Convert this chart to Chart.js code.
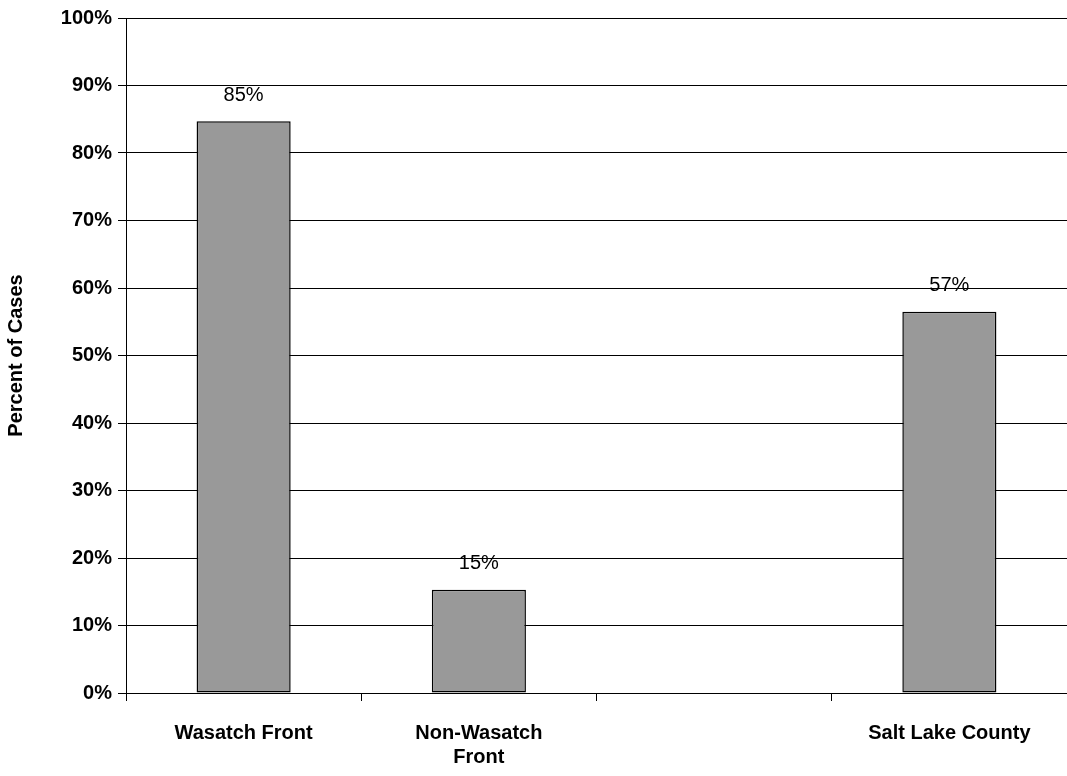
<!DOCTYPE html>
<html>
<head>
<script src="https://cdn.jsdelivr.net/npm/chart.js@4"></script>
<style>
body { margin: 0; background: #fff; }
#wrap { width: 1067px; height: 776px; }
</style>
</head>
<body>
<div id="wrap"><canvas id="c"></canvas></div>
<script>
var categories = [['Wasatch Front'], ['Non-Wasatch', 'Front'], [''], ['Salt Lake County']];
var values = [84.7, 15.3, null, 56.5];
var valueLabels = ['85%', '15%', '', '57%'];

var barLabels = {
    id: 'barLabels',
    afterDatasetsDraw: function (chart) {
        var ctx = chart.ctx;
        var meta = chart.getDatasetMeta(0);
        ctx.save();
        ctx.font = '20px "Liberation Sans", Arial, sans-serif';
        ctx.fillStyle = '#000';
        ctx.textAlign = 'center';
        ctx.textBaseline = 'bottom';
        meta.data.forEach(function (bar, i) {
            if (values[i] == null) return;
            ctx.fillText(valueLabels[i], bar.x, bar.y - 16);
        });
        ctx.restore();
    }
};

var tickFont = { family: '"Liberation Sans", Arial', size: 20, weight: 'bold' };

new Chart(document.getElementById('c'), {
    type: 'bar',
    data: {
        labels: categories,
        datasets: [{
            data: values,
            backgroundColor: '#999999',
            borderColor: '#000',
            borderWidth: 1.5,
            borderSkipped: false,
            categoryPercentage: 1,
            barPercentage: 0.4
        }]
    },
    options: {
        responsive: true,
        maintainAspectRatio: false,
        animation: false,
        layout: { padding: { top: 8, right: 0, left: 0, bottom: 0 } },
        plugins: { legend: { display: false }, tooltip: { enabled: false } },
        scales: {
            x: {
                afterFit: function (s) { s.height = 83; },
                grid: { drawOnChartArea: false, color: '#000', tickLength: 8, offset: true },
                border: { color: '#000' },
                ticks: { color: '#000', font: tickFont, maxRotation: 0, padding: 20 }
            },
            y: {
                min: 0, max: 100,
                afterFit: function (s) { s.width = 126; },
                ticks: {
                    stepSize: 10, color: '#000', font: tickFont, padding: 6,
                    callback: function (v) { return v + '%'; }
                },
                grid: { color: '#000', tickLength: 8 },
                border: { color: '#000' },
                title: { display: true, text: 'Percent of Cases', color: '#000', font: tickFont }
            }
        }
    },
    plugins: [barLabels]
});
</script>
</body>
</html>
